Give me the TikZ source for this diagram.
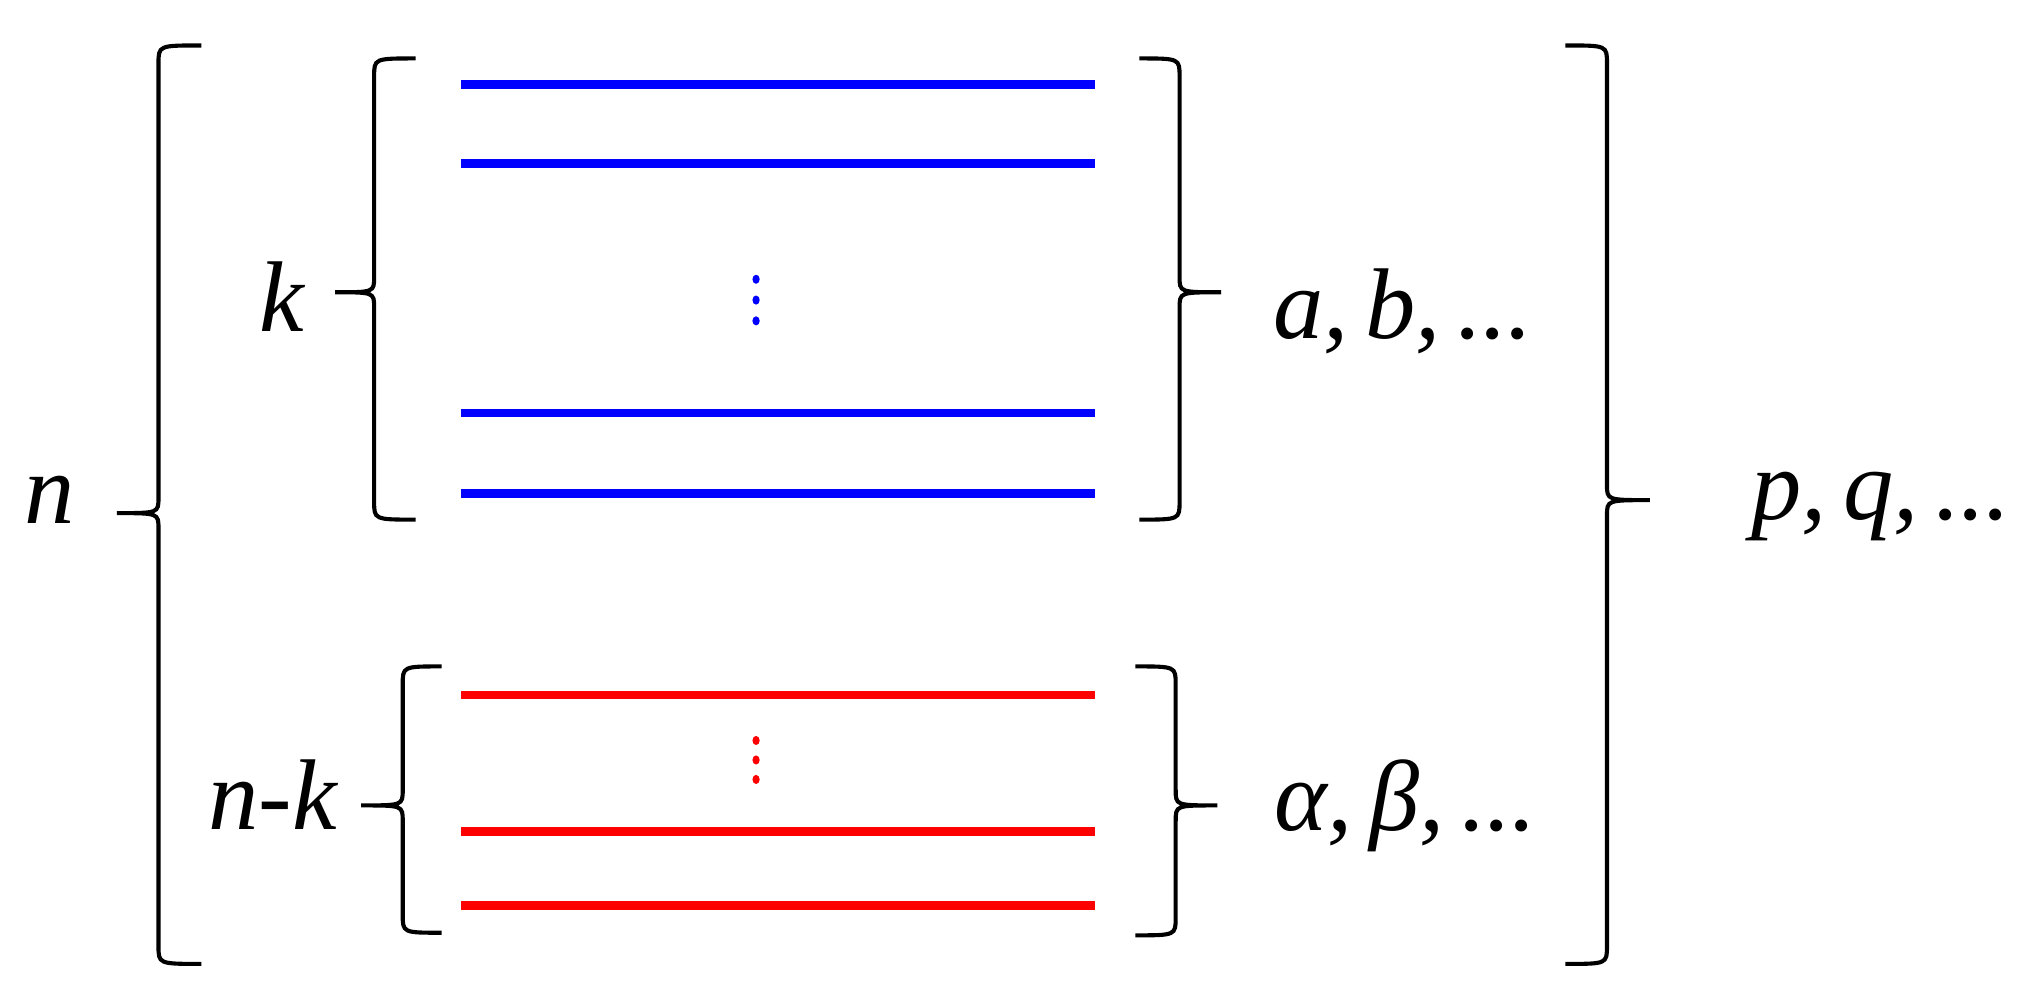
\documentclass[tikz,border=0pt]{standalone}
\usepackage{fontspec}
\setmainfont{Liberation Serif}
\newcommand\mybr[6]{% x0, top, bottom, mid, tipx, endx
\draw[br] (#6,-#2) .. controls (#1,-#2) .. (#1,-#2-14) -- (#1,-#4+12) .. controls (#1,-#4) .. (#5,-#4) .. controls (#1,-#4) .. (#1,-#4-12) -- (#1,-#3+14) .. controls (#1,-#3) .. (#6,-#3);}
\begin{document}
\begin{tikzpicture}[x=0.01cm,y=0.01cm,
  br/.style={line width=0.9pt,black},
  bl/.style={line width=1.9pt,blue},
  rd/.style={line width=1.9pt,red},
  lab/.style={font=\fontsize{22}{26}\selectfont\itshape}]
\useasboundingbox (0,0) rectangle (1568,-771);
\foreach \y in {65,126,318,380} \draw[bl] (355,-\y) -- (843,-\y);
\foreach \y in {535,640,697} \draw[rd] (355,-\y) -- (843,-\y);
\foreach \y in {215,231,247} \fill[blue] (582,-\y) ellipse (2.8 and 3.5);
\foreach \y in {570,585,600} \fill[red] (582,-\y) ellipse (2.8 and 3.5);
\mybr{122}{35}{742}{395}{90}{155}
\mybr{288}{45}{400}{225}{258}{320}
\mybr{310}{513}{718}{620}{278}{340}
\mybr{908}{45}{400}{225}{940}{877}
\mybr{905}{513}{720}{620}{937}{874}
\mybr{1237}{35}{742}{385}{1270}{1205}
\node[lab] (n) at (38,-385) {n};
\node[lab] (k) at (217,-228) {k};
\node[lab] (nk) at (210,-612) {n-k};
\node[lab] (ab) at (1080,-240) {a,\,b,\,...};
\node[lab] (albe) at (1082,-620) {α,\,β,\,...};
\node[lab] (pq) at (1448,-390) {p,\,q,\,...};
\end{tikzpicture}
\end{document}
